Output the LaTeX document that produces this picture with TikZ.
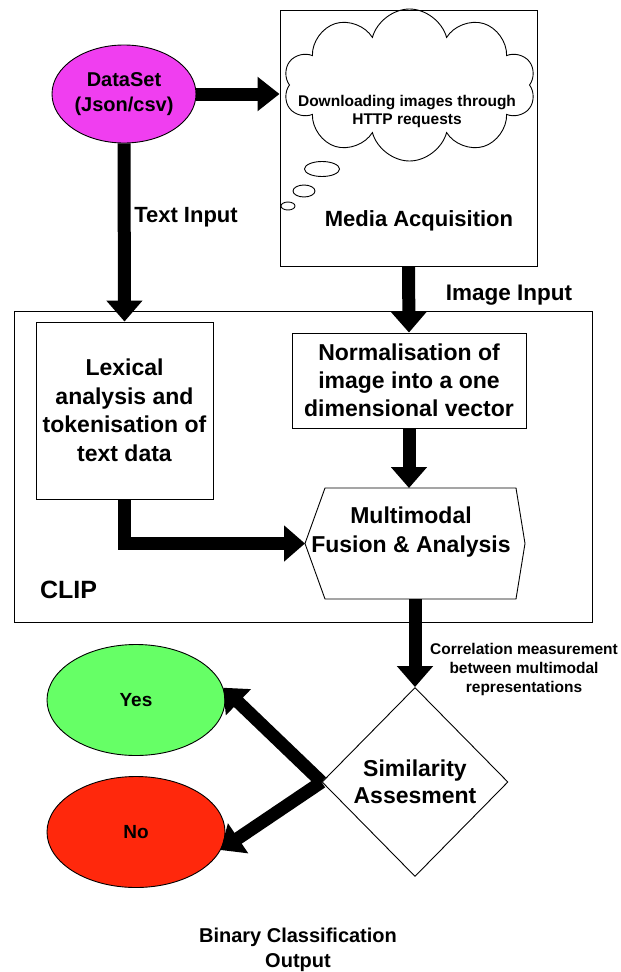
\documentclass[tikz,border=0pt]{standalone}
\usepackage{fontspec}
\setmainfont{Liberation Sans}
\usetikzlibrary{arrows.meta,shapes.geometric,shapes.symbols}
\definecolor{magentaC}{RGB}{240,62,240}
\definecolor{greenC}{RGB}{102,255,102}
\definecolor{redC}{RGB}{255,40,12}
\newcommand\myfs[2]{\fontsize{#1}{#2}\selectfont\bfseries}
\begin{document}
\begin{tikzpicture}[x=1pt,y=-1pt,
  shapeline/.style={draw=black,line width=0.9pt},
  boxnode/.style={shapeline,rectangle,inner sep=0pt,align=center},
  ellnode/.style={shapeline,ellipse,inner sep=0pt,align=center},
  lbl/.style={inner sep=0pt,align=center},
  bigarrow/.style={line width=13pt,line join=miter,-{Triangle[width=35pt,length=21pt]}}
]
\fill[white] (0,0) rectangle (621,972);
\useasboundingbox (0,0) rectangle (621,972);

% Dataset
\node[ellnode,fill=magentaC,minimum width=144pt,minimum height=98pt,font=\myfs{20}{25}] (data) at (124,94) {DataSet\\(Json/csv)};

% Media acquisition
\node[boxnode,minimum width=257pt,minimum height=256pt] (media) at (408.5,138) {};
\node[shapeline,cloud,cloud puffs=10,cloud puff arc=150,aspect=1.7,minimum width=252pt,minimum height=152pt,inner sep=0pt] (cloudn) at (409.5,85) {};
\node[lbl,font=\myfs{15.5}{18}] (cloudtext) at (407,111) {Downloading images through\\HTTP requests};
\node[ellnode,minimum width=35pt,minimum height=15pt] (b1) at (322,169) {};
\node[ellnode,minimum width=22pt,minimum height=12pt] (b2) at (304,191) {};
\node[ellnode,minimum width=14pt,minimum height=8pt] (b3) at (288,206) {};
\node[lbl,font=\myfs{22}{26}] (mediatext) at (419,221) {Media Acquisition};

% CLIP box
\node[boxnode,minimum width=578pt,minimum height=311pt] (clip) at (303,466.5) {};
\node[lbl,font=\myfs{25}{28}] (cliptext) at (68.5,590) {CLIP};

\node[boxnode,minimum width=177pt,minimum height=177pt,font=\myfs{23}{28.5}] (lex) at (124.5,410.5) {Lexical\\analysis and\\tokenisation of\\text data};
\node[boxnode,minimum width=234pt,minimum height=95pt,font=\myfs{23}{28}] (norm) at (409,380.5) {Normalisation of\\image into a one\\dimensional vector};

% hexagon
\draw[shapeline,fill=white] (305,543.5) -- (325,488) -- (516,488) -- (525,543.5) -- (516,599) -- (325,599) -- cycle;
\coordinate (fuseN) at (415,488);
\coordinate (fuseW) at (305,543.5);
\coordinate (fuseS) at (415,599);
\node[lbl,font=\myfs{23}{29}] (fuse) at (411,532.5) {Multimodal\\Fusion \& Analysis};

% diamond
\node[shapeline,diamond,minimum width=186pt,minimum height=189pt,inner sep=0pt,align=center,font=\myfs{23}{27}] (sim) at (415,782) {Similarity\\Assesment};

% outputs
\node[ellnode,fill=greenC,minimum width=178pt,minimum height=111pt,font=\myfs{19}{22}] (yes) at (136,700) {Yes};
\node[ellnode,fill=redC,minimum width=178pt,minimum height=111pt,font=\myfs{19}{22}] (no) at (136,832) {No};

% labels
\node[lbl,font=\myfs{22}{26}] (textin) at (186,217) {Text Input};
\node[lbl,font=\myfs{22.5}{26}] (imgin) at (509,295) {Image Input};
\node[lbl,font=\myfs{15.5}{19}] (corr) at (524,669) {Correlation measurement\\between multimodal\\representations};
\node[lbl,font=\myfs{20}{25}] (binary) at (298,949.5) {Binary Classification\\Output};

% arrows
\draw[bigarrow,-{Triangle[width=33pt,length=22pt]}] (data.east) -- (data.east -| media.west);
\draw[bigarrow] (data.south) -- (lex.north);
\draw[bigarrow] (media.south) -- (norm.north);
\draw[bigarrow] (norm.south) -- (norm.south |- fuseN);
\draw[bigarrow] (lex.south) |- (fuseW);
\draw[bigarrow] (fuseS) -- (sim.north);
\draw[bigarrow] (sim.west) -- (yes.8);
\draw[bigarrow] (sim.west) -- (no.-12);
\end{tikzpicture}
\end{document}
